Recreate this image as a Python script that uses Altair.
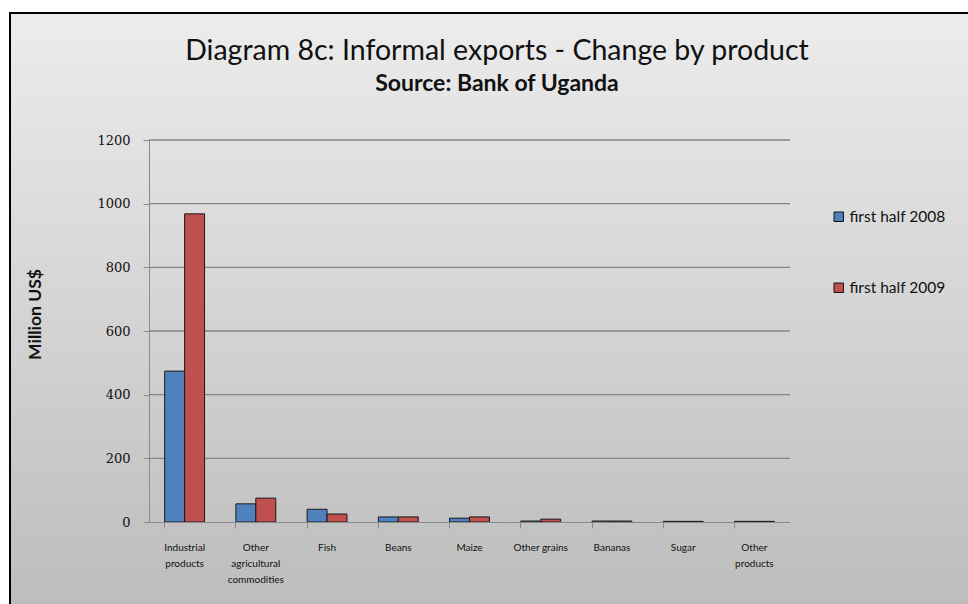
import altair as alt
import pandas as pd

categories = ["Industrial products", "Other agricultural commodities", "Fish", "Beans",
              "Maize", "Other grains", "Bananas", "Sugar", "Other products"]
label_lines = {
    "Industrial products": ["Industrial", "products"],
    "Other agricultural commodities": ["Other", "agricultural", "commodities"],
    "Fish": ["Fish"],
    "Beans": ["Beans"],
    "Maize": ["Maize"],
    "Other grains": ["Other grains"],
    "Bananas": ["Bananas"],
    "Sugar": ["Sugar"],
    "Other products": ["Other", "products"],
}
series = ["first half 2008", "first half 2009"]
values_2008 = [474, 57, 40, 16, 12, 3, 3, 2, 2]
values_2009 = [968, 75, 25, 16, 16, 9, 3, 2, 2]
y_ticks = [0, 200, 400, 600, 800, 1000, 1200]
title_text = "Diagram 8c: Informal exports - Change by product"
subtitle_text = "Source: Bank of Uganda"

rows = []
for c, a, b in zip(categories, values_2008, values_2009):
    rows.append({"product": c, "period": series[0], "value": a})
    rows.append({"product": c, "period": series[1], "value": b})
df = pd.DataFrame(rows)

W, H = 641, 382
PL, PT = 149, 140
PR, PB = 968 - PL - W, 604 - PT - H

expr_parts = " : ".join(
    [f"datum.value == '{c}' ? {label_lines[c]!r}" for c in categories]) + " : datum.label"

x_scale = alt.Scale(domain=categories, paddingInner=0.44, paddingOuter=0.22)
y_scale = alt.Scale(domain=[0, 1200])

background = alt.Chart(pd.DataFrame({"a": [0]})).mark_rect(
    color=alt.LinearGradient(
        gradient="linear", x1=0, y1=0, x2=0, y2=1,
        stops=[alt.GradientStop(color="#ececec", offset=0),
               alt.GradientStop(color="#bcbcbc", offset=1)]),
    stroke="black", strokeWidth=2,
).encode(
    x=alt.value(10 - PL), x2=alt.value(W + PR + 10),
    y=alt.value(13 - PT), y2=alt.value(H + PB + 10),
)

titles = alt.Chart(pd.DataFrame({"t": [title_text]})).mark_text(
    font="Lato", fontSize=28.5, color="#111", align="center", baseline="middle"
).encode(text="t:N", x=alt.value(497 - PL), y=alt.value(51 - PT))

subtitles = alt.Chart(pd.DataFrame({"t": [subtitle_text]})).mark_text(
    font="Lato", fontSize=23, fontWeight="bold", color="#111", align="center",
    baseline="middle"
).encode(text="t:N", x=alt.value(497 - PL), y=alt.value(84 - PT))

grid = alt.Chart(pd.DataFrame({"v": y_ticks[1:]})).mark_rule(
    color="#858585", strokeWidth=1.3
).encode(y=alt.Y("v:Q", scale=y_scale, axis=None), x=alt.value(0), x2=alt.value(W))

bars = alt.Chart(df).mark_bar(stroke="#1a1a1a", strokeWidth=1).encode(
    x=alt.X("product:N", scale=x_scale, sort=categories,
            axis=alt.Axis(title=None, labelAngle=0, ticks=False, domain=True, zindex=1,
                          domainColor="#8a8a8a", labelFont="Lato", labelFontSize=10,
                          labelColor="#111", labelPadding=20, labelLineHeight=16,
                          labelExpr=expr_parts, labelBaseline="top")),
    xOffset=alt.XOffset("period:N", sort=series),
    y=alt.Y("value:Q", scale=y_scale,
            axis=alt.Axis(values=y_ticks, format="d", title="Million US$",
                          titleFont="Lato", titleFontSize=17.5, titleFontWeight="bold",
                          titleColor="#111", titleX=-114, titleY=174, titleAngle=270,
                          titleAlign="center", titleBaseline="middle",
                          labelFont="DejaVu Serif", labelFontSize=13,
                          labelColor="#111", labelPadding=13, tickSize=6, zindex=1,
                          tickColor="#8a8a8a", domainColor="#8a8a8a", grid=False)),
    color=alt.Color("period:N", sort=series,
                    scale=alt.Scale(domain=series, range=["#4f81bd", "#c0504d"]),
                    legend=alt.Legend(title=None, orient="none", legendX=682, legendY=69,
                                      symbolType="square", symbolSize=90,
                                      symbolStrokeColor="#111", symbolStrokeWidth=1,
                                      labelFont="Lato", labelFontSize=15.5, labelColor="#111",
                                      rowPadding=54, labelOffset=3)),
)

ticks = alt.Chart(pd.DataFrame({"product": categories})).mark_tick(opacity=0).encode(
    x=alt.X("product:N", scale=x_scale, sort=categories,
            axis=alt.Axis(title=None, labels=False, domain=False, ticks=True, zindex=1,
                          orient="bottom", bandPosition=0, tickSize=6,
                          tickColor="#8a8a8a")),
)

chart = alt.layer(background, titles, subtitles, grid, bars, ticks).resolve_axis(
    x="independent", y="independent").properties(
    width=W, height=H,
    padding={"left": PL, "top": PT, "right": PR, "bottom": PB},
    autosize=alt.AutoSizeParams(type="none"),
    background="white",
).configure_view(stroke=None)

chart.save("out.html", embed_options={"renderer": "svg", "actions": False})
